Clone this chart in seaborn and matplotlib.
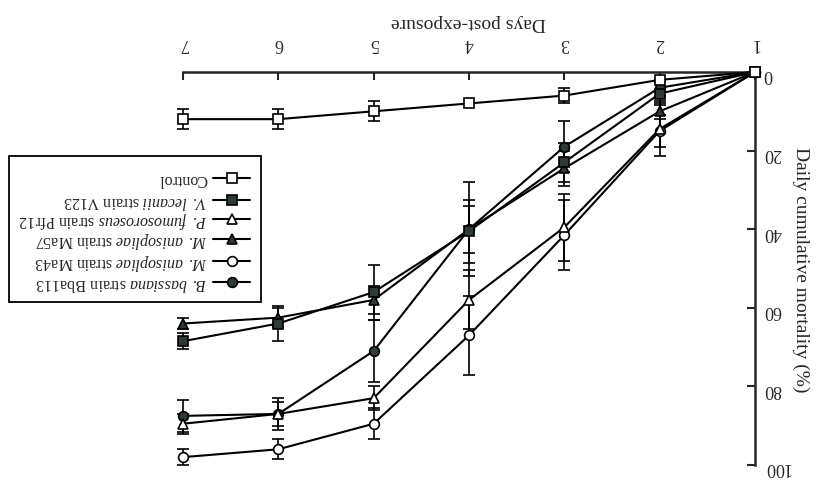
import matplotlib
matplotlib.use('Agg')
import matplotlib.pyplot as plt
from matplotlib.lines import Line2D
from matplotlib.patches import Rectangle
import seaborn as sns

# dane (wykres jest obrocony o 180 stopni)
days = [1, 2, 3, 4, 5, 6, 7]

bbas = [0, 4, 19, 40, 71, 87, 87.5]
bbas_err = [0, 2, 6.5, 12, 8, 4, 4]
ma43 = [0, 15, 41.5, 67, 89.5, 96, 98]
ma43_err = [0, 4, 9, 10, 4, 2.5, 2]
ma57 = [0, 10, 24.5, 40, 58, 62.5, 64]
ma57_err = [0, 2, 4.5, 6, 3.5, 2.5, 1.5]
pfr12 = [0, 14.5, 39.5, 58, 83, 87, 89.5]
pfr12_err = [0, 7, 8.5, 7.5, 3, 3, 2.5]
v123 = [0, 5.5, 23, 40.5, 56, 64, 68.5]
v123_err = [0, 3, 5, 8, 7, 4.5, 2]
control = [0, 2, 6, 8, 10, 12, 12]
control_err = [0, 0, 2, 0, 2.5, 2.5, 2.5]

labels = [r'$\mathit{B.\ bassiana}$ strain Bba113',
          r'$\mathit{M.\ anisopliae}$ strain Ma43',
          r'$\mathit{M.\ anisopliae}$ strain Ma57',
          r'$\mathit{P.\ fumosoroseus}$ strain Pfr12',
          r'$\mathit{V.\ lecanii}$ strain V123',
          'Control']
y_ticks = [0, 20, 40, 60, 80, 100]

dark = '#2f3a36'
series = [
    (bbas, bbas_err, 'o', dark),
    (ma43, ma43_err, 'o', 'white'),
    (ma57, ma57_err, '^', dark),
    (pfr12, pfr12_err, '^', 'white'),
    (v123, v123_err, 's', dark),
    (control, control_err, 's', 'white'),
]

sns.set_style('ticks')
plt.rcParams['font.family'] = ['Liberation Serif', 'DejaVu Serif']
plt.rcParams['mathtext.fontset'] = 'custom'
plt.rcParams['mathtext.rm'] = 'Liberation Serif'
plt.rcParams['mathtext.it'] = 'Liberation Serif:italic'

fig = plt.figure(figsize=(8.24, 4.81), dpi=100)
ax = fig.add_axes([183 / 824, 15 / 481, 572 / 824, 393 / 481])

for vals, errs, mk, fc in series:
    idx = [i for i, e in enumerate(errs) if e > 0]
    ax.errorbar([days[i] for i in idx], [vals[i] for i in idx], yerr=[errs[i] for i in idx],
                fmt='none', ecolor='black', elinewidth=1.2, capsize=4, capthick=1.2,
                zorder=2, clip_on=False)
    sns.lineplot(x=days, y=vals, ax=ax, color='black', linewidth=1.5, errorbar=None,
                 marker=mk, markersize=7, markerfacecolor=fc, markeredgecolor='black',
                 markeredgewidth=1.2, clip_on=False, zorder=3)

# obrot calego wykresu: odwrocone osie, opisy do gory nogami
ax.set_xlim(7, 1)
ax.set_ylim(100, 0)
ax.set_xticks(days)
ax.set_yticks(y_ticks)
ax.xaxis.tick_top()
ax.yaxis.tick_right()
ax.tick_params(axis='both', direction='in', length=6, width=1.5, labelsize=13,
               labelrotation=180)
ax.tick_params(axis='x', pad=15)
ax.tick_params(axis='y', pad=6)
for s in ['left', 'bottom']:
    ax.spines[s].set_visible(False)
for s in ['top', 'right']:
    ax.spines[s].set_linewidth(1.8)

ax.xaxis.set_label_position('top')
ax.set_xlabel('Days post-exposure', fontsize=14, labelpad=6, rotation=180)
ax.yaxis.set_label_position('right')
ax.set_ylabel('Daily cumulative mortality (%)', fontsize=14, labelpad=14, rotation=270)

# legenda recznie (obrocona)
W, H = 824, 481
fig.add_artist(Rectangle((9 / W, 1 - 303 / H), 252 / W, 146 / H, transform=fig.transFigure,
                         fill=False, edgecolor='black', linewidth=1.3))
rows = [283, 262, 240, 220, 201, 179]
for (vals, errs, mk, fc), lab, ry in zip(series, labels, rows):
    yy = 1 - ry / H
    fig.add_artist(Line2D([213 / W, 232 / W, 250 / W], [yy, yy, yy], transform=fig.transFigure,
                          color='black', linewidth=1.5, marker=mk, markevery=[1], markersize=7,
                          markerfacecolor=fc, markeredgecolor='black', markeredgewidth=1.2))
    fig.text(207 / W, yy, lab, rotation=180, ha='right', va='center', fontsize=11.5)

fig.savefig('out.png', dpi=100)
